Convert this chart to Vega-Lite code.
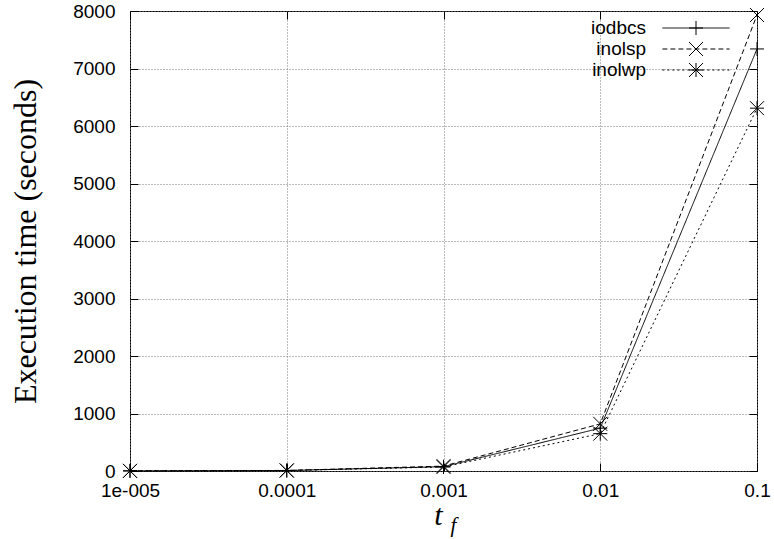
{
  "$schema": "https://vega.github.io/schema/vega-lite/v6.json",
  "width": 627,
  "height": 460,
  "autosize": "none",
  "padding": {"left": 130, "top": 11, "right": 17, "bottom": 68},
  "background": "white",
  "config": {
    "view": {"stroke": "black", "strokeWidth": 1},
    "axis": {
      "labelFont": "Liberation Sans",
      "labelFontSize": 19,
      "labelColor": "black",
      "tickColor": "black",
      "tickWidth": 1,
      "tickSize": -8,
      "domain": false,
      "labelFlush": false,
      "labelOverlap": false,
      "gridColor": "#777777",
      "gridDash": [1, 2],
      "gridOpacity": 1,
      "gridWidth": 1,
      "titleColor": "black",
      "titleFontWeight": "normal"
    },
    "legend": {
      "orient": "none",
      "legendX": 556.5,
      "legendY": 7.5,
      "padding": 0,
      "rowPadding": 1,
      "labelFont": "Liberation Sans",
      "labelFontSize": 19,
      "labelColor": "black",
      "labelAlign": "right",
      "labelBaseline": "middle",
      "labelOffset": -59.5,
      "symbolSize": 196,
      "symbolStrokeWidth": 1,
      "symbolStrokeColor": "black",
      "symbolFillColor": "transparent",
      "symbolOpacity": 1,
      "title": null
    }
  },
  "data": {
    "values": [
      {"tf": 0.00001, "time": 2, "series": "iodbcs"},
      {"tf": 0.0001, "time": 8, "series": "iodbcs"},
      {"tf": 0.001, "time": 75, "series": "iodbcs"},
      {"tf": 0.01, "time": 745, "series": "iodbcs"},
      {"tf": 0.1, "time": 7340, "series": "iodbcs"},
      {"tf": 0.00001, "time": 2, "series": "inolsp"},
      {"tf": 0.0001, "time": 10, "series": "inolsp"},
      {"tf": 0.001, "time": 85, "series": "inolsp"},
      {"tf": 0.01, "time": 820, "series": "inolsp"},
      {"tf": 0.1, "time": 7930, "series": "inolsp"},
      {"tf": 0.00001, "time": 2, "series": "inolwp"},
      {"tf": 0.0001, "time": 8, "series": "inolwp"},
      {"tf": 0.001, "time": 70, "series": "inolwp"},
      {"tf": 0.01, "time": 650, "series": "inolwp"},
      {"tf": 0.1, "time": 6310, "series": "inolwp"}
    ]
  },
  "layer": [
    {
      "mark": {"type": "line", "color": "black", "strokeWidth": 1},
      "encoding": {
        "x": {
          "field": "tf",
          "type": "quantitative",
          "scale": {"type": "log", "domain": [0.00001, 0.1]},
          "axis": {
            "orient": "bottom",
            "values": [0.00001, 0.0001, 0.001, 0.01, 0.1],
            "labelExpr": "datum.value < 0.00005 ? '1e-005' : toString(datum.value)",
            "grid": true,
            "labelPadding": 18,
            "title": "t",
            "titleFont": "Liberation Serif",
            "titleFontStyle": "italic",
            "titleFontSize": 30,
            "titleX": 308,
            "titleY": 53,
            "titleAlign": "center",
            "titleBaseline": "alphabetic"
          }
        },
        "y": {
          "field": "time",
          "type": "quantitative",
          "scale": {"domain": [0, 8000]},
          "axis": {
            "orient": "left",
            "values": [0, 1000, 2000, 3000, 4000, 5000, 6000, 7000, 8000],
            "format": "d",
            "grid": true,
            "labelPadding": 23,
            "title": "Execution time (seconds)",
            "titleFont": "Liberation Serif",
            "titleFontSize": 32,
            "titleAngle": -90,
            "titleX": -95,
            "titleY": 230,
            "titleAlign": "center",
            "titleBaseline": "alphabetic"
          }
        },
        "strokeDash": {
          "field": "series",
          "type": "nominal",
          "scale": {"domain": ["iodbcs", "inolsp", "inolwp"], "range": [[1, 0], [5, 3], [2, 3]]},
          "legend": {
            "title": null,
            "symbolType": "M-4.8,0H4.8"
          }
        }
      }
    },
    {
      "mark": {"type": "point", "filled": false, "color": "black", "strokeWidth": 1, "size": 196, "opacity": 1},
      "encoding": {
        "x": {
          "field": "tf",
          "type": "quantitative",
          "scale": {"type": "log", "domain": [0.00001, 0.1]},
          "axis": {
            "orient": "top",
            "values": [0.00001, 0.0001, 0.001, 0.01, 0.1],
            "labels": false,
            "grid": false,
            "title": "f",
            "titleFont": "Liberation Serif",
            "titleFontStyle": "italic",
            "titleFontSize": 21,
            "titleX": 323,
            "titleY": 520,
            "titleAlign": "center",
            "titleBaseline": "alphabetic"
          }
        },
        "y": {
          "field": "time",
          "type": "quantitative",
          "scale": {"domain": [0, 8000]},
          "axis": {
            "orient": "right",
            "values": [0, 1000, 2000, 3000, 4000, 5000, 6000, 7000, 8000],
            "labels": false,
            "grid": false,
            "title": null
          }
        },
        "shape": {
          "field": "series",
          "type": "nominal",
          "sort": ["iodbcs", "inolsp", "inolwp"],
          "scale": {
            "range": ["M-1,0H1M0,-1V1", "M-1,-1L1,1M-1,1L1,-1", "M-1,0H1M0,-1V1M-1,-1L1,1M-1,1L1,-1"]
          },
          "legend": {
            "title": null,
            "labelOpacity": 0
          }
        }
      }
    }
  ],
  "resolve": {"axis": {"x": "independent", "y": "independent"}}
}
